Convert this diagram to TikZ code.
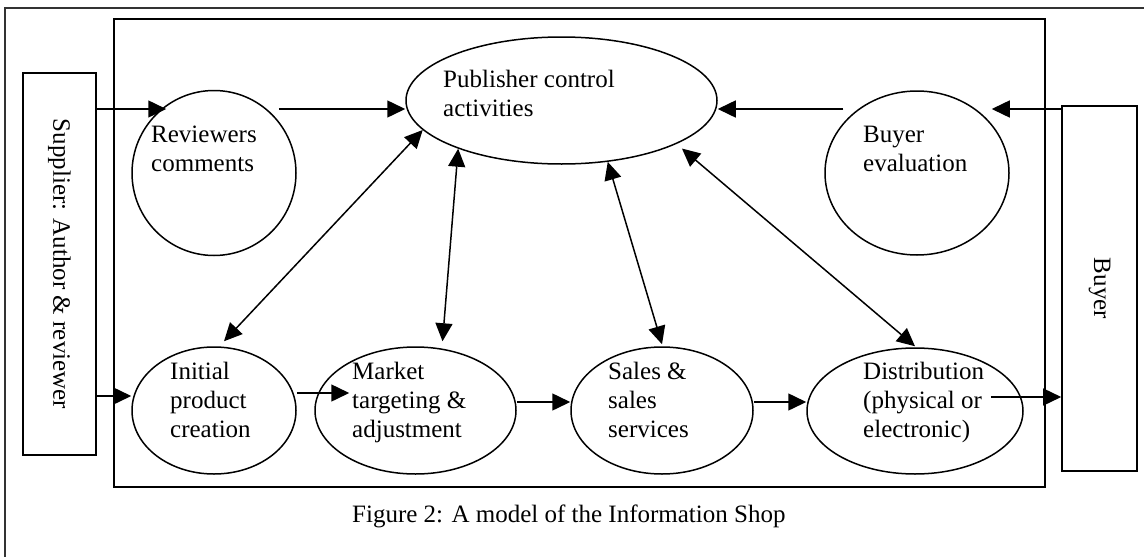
\documentclass[tikz,border=0pt]{standalone}
\usepackage{fontspec}
\setmainfont{Liberation Serif}
\usetikzlibrary{arrows.meta,shapes.geometric,calc}
\begin{document}
\begin{tikzpicture}[x=1pt,y=-1pt,
  every node/.style={font=\fontsize{25}{29}\selectfont},
  bubble/.style={draw,ellipse,line width=1.5pt,inner sep=0pt},
  boxnode/.style={draw,rectangle,line width=1.6pt,inner sep=0pt},
  % labels are placed by the baseline of their last line
  lbl/.style={anchor=base west,align=left,inner sep=0pt},
  flow/.style={line width=1.5pt,-{Triangle[length=18pt,width=17pt]}},
  twoway/.style={line width=1.5pt,{Triangle[length=18pt,width=17pt]}-{Triangle[length=18pt,width=17pt]}},
  frame/.style={line width=1.3pt,draw=black!80}]
\useasboundingbox (0,0) rectangle (1144,557);

% page frame and shop boundary
\draw[frame] (5,557) |- (1144,8);
\draw[line width=1.6pt] (114,19) rectangle (1045,487);

% outside parties
\node[boxnode,minimum width=73pt,minimum height=382pt] (supplier) at (59.5,264) {};
\node[rotate=-90,inner sep=0pt] (supplierT) at (supplier.center) {Supplier: Author \& reviewer};
\node[boxnode,minimum width=75pt,minimum height=365pt] (buyer) at (1099.5,288.5) {};
\node[rotate=-90,inner sep=0pt] (buyerT) at (buyer.center) {Buyer};

% activities
\node[bubble,minimum width=164pt,minimum height=165pt] (rev) at (214,173) {};
\node[bubble,minimum width=311pt,minimum height=127pt] (pub) at (561.5,100.5) {};
\node[bubble,minimum width=184pt,minimum height=164pt] (beval) at (917,173) {};
\node[bubble,minimum width=164pt,minimum height=127pt] (init) at (214,410.5) {};
\node[bubble,minimum width=201pt,minimum height=127pt] (mkt) at (415.5,410.5) {};
\node[bubble,minimum width=182pt,minimum height=127pt] (sales) at (662,410.5) {};
\node[bubble,minimum width=216pt,minimum height=126pt] (dist) at (915,411) {};

\node[lbl] (revT) at (151,171) {Reviewers\\comments};
\node[lbl] (pubT) at (443,116) {Publisher control\\activities};
\node[lbl] (bevalT) at (863,171) {Buyer\\evaluation};
\node[lbl] (initT) at (170,437) {Initial\\product\\creation};
\node[lbl] (mktT) at (352,437) {Market\\targeting \&\\adjustment};
\node[lbl] (salesT) at (608,437) {Sales \&\\sales\\services};
\node[lbl] (distT) at (863,437) {Distribution\\(physical or\\electronic)};

\node[lbl] (caption) at (352,522) {Figure 2: A model of the Information Shop};

% levels of the horizontal flows
\coordinate (yTop) at (0,109);
\coordinate (yA) at (0,396);
\coordinate (yB) at (0,393);
\coordinate (yC) at (0,402);
\coordinate (yD) at (0,397);

% feedback into publisher control
\draw[flow] (supplier.east |- yTop) -- ($(rev.west |- yTop)+(35,0)$);
\draw[flow] ($(rev.east |- yTop)+(-18,0)$) -- (pub.west |- yTop);
\draw[flow] (buyer.west |- yTop) -- ($(beval.east |- yTop)+(-18,0)$);
\draw[flow] ($(beval.west |- yTop)+(19,0)$) -- (pub.east |- yTop);

% control links
\draw[twoway] (pub.192) -- ($(init.north)+(10,-5)$);
\draw[twoway] (pub.205) -- ($(mkt.north)+(27,-5)$);
\draw[twoway] (pub.307) -- ($(sales.north)+(0,-2)$);
\draw[twoway] ($(pub.338)+(9,3)$) -- ($(dist.north)+(0,-1)$);

% product flow
\draw[flow] (supplier.east |- yA) -- (init.west |- yA);
\draw[flow] (init.east |- yB) -- ($(mkt.west |- yB)+(35,0)$);
\draw[flow] (mkt.east |- yC) -- (sales.west |- yC);
\draw[flow] (sales.east |- yC) -- (dist.west |- yC);
\draw[flow] ($(dist.east |- yD)+(-33,0)$) -- (buyer.west |- yD);
\end{tikzpicture}
\end{document}
